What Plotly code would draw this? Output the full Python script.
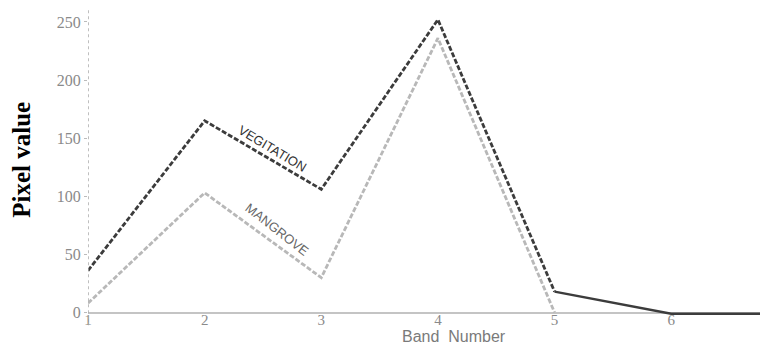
import plotly.graph_objects as go

bands = [1, 2, 3, 4, 5]
vegetation = [36, 165, 106, 252, 18]
mangrove = [8, 103, 30, 236, 0]
tail_bands = [5, 6, 7]
tail_vegetation = [18, -1, -1]
x_ticks = [1, 2, 3, 4, 5, 6]
y_ticks = [0, 50, 100, 150, 200, 250]

# page has an 8px body margin; figure coordinates are page - 8
PH = 308.5  # plot height px


def px_x(px):
    return (px - 88) / 680


def px_y(py):
    return (316.5 - py) / PH


fig = go.Figure()
fig.add_trace(go.Scatter(x=bands, y=mangrove, mode="lines",
                         line=dict(color="#b8b8b8", width=2.8, dash="5px,2px"),
                         showlegend=False))
fig.add_trace(go.Scatter(x=bands, y=vegetation, mode="lines",
                         line=dict(color="#3c3c3c", width=2.8, dash="5px,2px"),
                         showlegend=False))
fig.add_trace(go.Scatter(x=tail_bands, y=tail_vegetation, mode="lines",
                         line=dict(color="#3c3c3c", width=2.4),
                         showlegend=False))

fig.update_layout(
    width=760, height=339,
    margin=dict(l=80, r=0, t=0, b=30.5),
    paper_bgcolor="white", plot_bgcolor="white",
    xaxis=dict(range=[1, 6.83], tickvals=x_ticks, showgrid=False, zeroline=False,
               showline=False, ticks="", anchor="free", position=0.024,
               tickfont=dict(family="Liberation Serif", size=15, color="#8a8a8a")),
    yaxis=dict(range=[-3, 262], tickvals=y_ticks, showgrid=False, zeroline=True,
               zerolinecolor="#c4c4c4", zerolinewidth=2, showline=False,
               ticks="outside", ticklen=3, tickcolor="#bbbbbb",
               tickfont=dict(family="Liberation Serif", size=16, color="#8a8a8a")),
    shapes=[dict(type="line", xref="x", yref="paper", x0=1, x1=1, y0=-0.03, y1=1.0,
                 line=dict(color="#aaaaaa", width=1.5, dash="dot"))],
    annotations=[
        dict(text="Pixel value", xref="paper", yref="paper", x=px_x(22), y=px_y(160),
             xanchor="center", yanchor="middle",
             showarrow=False, textangle=-90,
             font=dict(family="Liberation Serif", size=25, color="black", weight="bold")),
        dict(text="Band  Number", xref="paper", yref="paper", x=px_x(454), y=px_y(337),
             xanchor="center", yanchor="middle",
             showarrow=False, font=dict(family="Liberation Sans", size=16, color="#7a7a7a")),
        dict(text="VEGITATION", xref="paper", yref="paper", x=px_x(272), y=px_y(149),
             xanchor="center", yanchor="middle",
             showarrow=False, textangle=31, font=dict(family="Liberation Sans", size=13, color="#333333")),
        dict(text="MANGROVE", xref="paper", yref="paper", x=px_x(277), y=px_y(230),
             xanchor="center", yanchor="middle",
             showarrow=False, textangle=38, font=dict(family="Liberation Sans", size=13, color="#666666")),
    ],
)

fig.write_html("out.html")
